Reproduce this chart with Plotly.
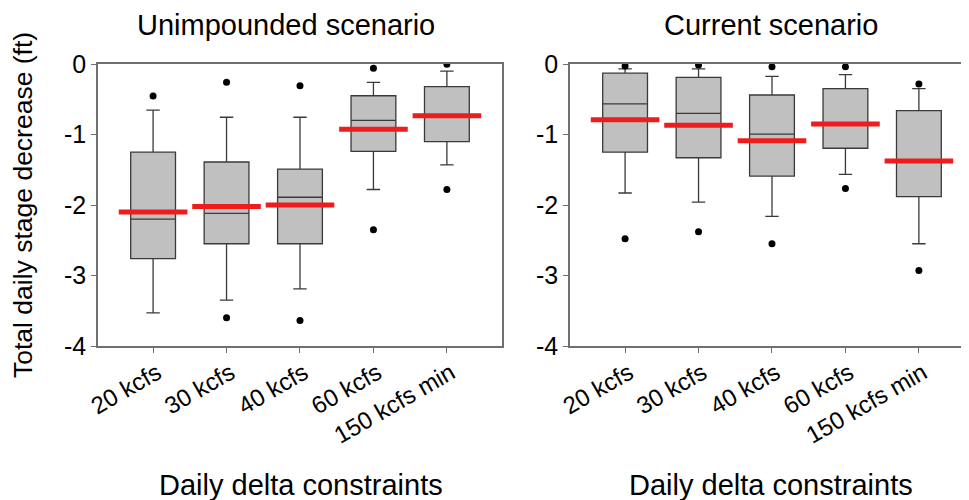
import plotly.graph_objects as go

categories = ["20 kcfs", "30 kcfs", "40 kcfs", "60 kcfs", "150 kcfs min"]

# Unimpounded scenario
un_upper_out = [-0.455, -0.26, -0.31, -0.06, -0.005]
un_upper_wh = [-0.655, -0.755, -0.755, -0.26, -0.10]
un_q3 = [-1.25, -1.39, -1.49, -0.45, -0.32]
un_median = [-2.20, -2.12, -1.89, -0.80, -0.73]
un_mean = [-2.10, -2.02, -2.00, -0.925, -0.735]
un_q1 = [-2.76, -2.55, -2.55, -1.24, -1.10]
un_lower_wh = [-3.53, -3.35, -3.19, -1.78, -1.43]
un_lower_out = [None, -3.60, -3.64, -2.35, -1.78]

# Current scenario
cu_upper_out = [-0.03, -0.015, -0.04, -0.04, -0.285]
cu_upper_wh = [-0.07, -0.07, -0.175, -0.15, -0.35]
cu_q3 = [-0.13, -0.19, -0.44, -0.35, -0.66]
cu_median = [-0.565, -0.70, -0.996, -0.84, -1.37]
cu_mean = [-0.79, -0.87, -1.09, -0.85, -1.375]
cu_q1 = [-1.25, -1.33, -1.59, -1.195, -1.88]
cu_lower_wh = [-1.83, -1.96, -2.16, -1.565, -2.55]
cu_lower_out = [-2.48, -2.38, -2.55, -1.765, -2.93]

panel_titles = ["Unimpounded scenario", "Current scenario"]
x_title = "Daily delta constraints"
y_title = "Total daily stage decrease (ft)"
y_ticks = [0, -1, -2, -3, -4]
y_tick_labels = ["0", "-1", "-2", "-3", "-4"]

FONT = "Liberation Sans, Arial, sans-serif"
OFF = 8  # default page body margin
W, H = 969 - OFF, 500 - OFF
PT, PB = 64 - OFF, 346 - OFF
L_DOM = (98 - OFF, 502 - OFF)
R_DOM = (570 - OFF, 969 - OFF)
PX_PER_CAT = 73.45

fig = go.Figure()

panels = [
    ("x", "y", un_q1, un_median, un_q3, un_lower_wh, un_upper_wh, un_mean, un_upper_out, un_lower_out),
    ("x2", "y2", cu_q1, cu_median, cu_q3, cu_lower_wh, cu_upper_wh, cu_mean, cu_upper_out, cu_lower_out),
]

for xa, ya, q1, med, q3, lo, hi, mean, uo, lo_o in panels:
    for i, c in enumerate(categories):
        fig.add_trace(go.Box(
            x=[c], q1=[q1[i]], median=[med[i]], q3=[q3[i]],
            lowerfence=[lo[i]], upperfence=[hi[i]],
            width=0.61, whiskerwidth=0.3,
            fillcolor="#c0c0c0", line=dict(color="#3a3a3a", width=1.3),
            boxpoints=False, xaxis=xa, yaxis=ya, showlegend=False, hoverinfo="skip",
        ))
    fig.add_trace(go.Scatter(
        x=categories, y=mean, mode="markers", xaxis=xa, yaxis=ya, showlegend=False,
        marker=dict(symbol="line-ew", size=49, color="#ee1c1c",
                    line=dict(color="#ee1c1c", width=5)),
        hoverinfo="skip",
    ))
    fig.add_trace(go.Scatter(
        x=categories + categories, y=uo + lo_o, mode="markers", xaxis=xa, yaxis=ya,
        showlegend=False, marker=dict(color="black", size=7), hoverinfo="skip",
    ))

axis_line = "#707070"
common_x = dict(type="category", categoryorder="array", categoryarray=categories,
                showline=True, linecolor=axis_line, linewidth=1.5, ticks="outside",
                ticklen=5, tickcolor=axis_line, tickangle=-30, showgrid=False,
                zeroline=False, automargin=False, ticklabelshift=4,
                ticklabelstandoff=-3,
                tickfont=dict(family=FONT, size=24, color="black"))
common_y = dict(range=[-4, 0], tickvals=y_ticks, ticktext=y_tick_labels, showline=True,
                linecolor=axis_line, linewidth=1.5, ticks="outside", ticklen=5,
                tickcolor=axis_line, showgrid=False, zeroline=False, automargin=False,
                tickfont=dict(family=FONT, size=25, color="black"))

l_span = (L_DOM[1] - L_DOM[0]) / PX_PER_CAT
r_span = (R_DOM[1] - R_DOM[0]) / PX_PER_CAT

fig.update_layout(
    template="none",
    width=W, height=H, margin=dict(l=0, r=0, t=PT, b=H - PB, pad=0),
    paper_bgcolor="white", plot_bgcolor="white",
    xaxis=dict(common_x, domain=[L_DOM[0] / W, L_DOM[1] / W], range=[-0.75, -0.75 + l_span],
               mirror=True, anchor="y"),
    yaxis=dict(common_y, domain=[0, 1], mirror=True, anchor="x"),
    xaxis2=dict(common_x, domain=[R_DOM[0] / W, 1.0], range=[-0.75, -0.75 + r_span],
                mirror=True, anchor="y2"),
    yaxis2=dict(common_y, domain=[0, 1], mirror=False, anchor="x2"),
    showlegend=False,
)

def py(p):
    return (PB - (p - OFF)) / (PB - PT)

def px(p):
    return (p - OFF) / W

ann = []
for txt, cx in zip(panel_titles, [286, 771]):
    ann.append(dict(text=txt, x=px(cx), y=py(25), xref="paper", yref="paper",
                    xanchor="center", yanchor="middle", showarrow=False,
                    font=dict(family=FONT, size=29, color="black")))
for cx in [301, 771]:
    ann.append(dict(text=x_title, x=px(cx), y=py(485), xref="paper", yref="paper",
                    xanchor="center", yanchor="middle", showarrow=False,
                    font=dict(family=FONT, size=29, color="black")))
ann.append(dict(text=y_title, x=px(23), y=py(205), xref="paper", yref="paper",
                xanchor="center", yanchor="middle", textangle=-90, showarrow=False,
                font=dict(family=FONT, size=26.5, color="black")))
fig.update_layout(annotations=ann)

fig.write_html("out.html")
